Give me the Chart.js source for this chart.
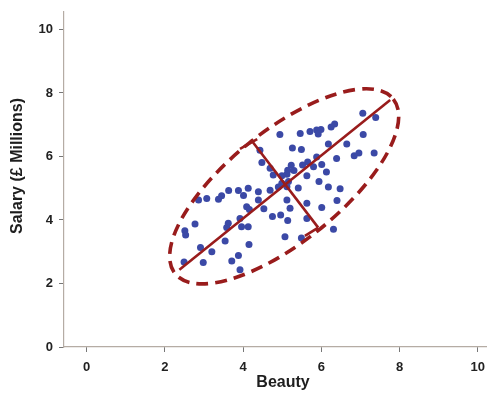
<!DOCTYPE html>
<html><head><meta charset="utf-8">
<script src="https://cdn.jsdelivr.net/npm/chart.js@4"></script>
<style>html,body{margin:0;padding:0;background:#fff}#wrap{width:491px;height:394px}</style>
</head><body><div id="wrap"><canvas id="c" width="491" height="394"></canvas></div>
<script>
// ---- data ----
const beautyValues = [7.06,7.39,6.34,6.25,4.94,5.46,5.71,5.88,5.99,5.92,7.07,6.18,6.65,5.26,5.49,4.43,7.35,6.96,6.84,6.39,5.88,5.65,5.52,5.23,5.14,5.30,5.80,6.01,6.13,4.48,4.69,4.77,4.99,5.12,5.63,5.94,6.18,6.48,5.16,4.99,5.12,5.41,4.90,4.69,4.39,4.13,4.01,3.88,3.63,3.45,3.37,3.07,2.86,4.39,5.12,4.09,4.16,4.53,5.20,5.63,6.01,6.40,4.75,4.96,5.14,5.63,6.31,5.07,5.49,2.77,2.51,2.53,3.62,3.58,3.92,3.96,4.13,3.54,2.91,3.20,4.15,2.49,2.98,3.71,3.88,3.92];
const salaryValues = [7.36,7.23,7.02,6.93,6.69,6.72,6.79,6.83,6.85,6.71,6.69,6.39,6.39,6.27,6.22,6.20,6.11,6.11,6.02,5.94,5.98,5.83,5.73,5.72,5.57,5.56,5.68,5.75,5.51,5.81,5.63,5.42,5.39,5.44,5.39,5.21,5.04,4.98,5.21,5.16,5.05,5.01,5.04,4.94,4.89,5.00,4.77,4.93,4.93,4.76,4.65,4.68,4.63,4.63,4.63,4.42,4.33,4.35,4.37,4.53,4.39,4.61,4.11,4.16,3.98,4.05,3.71,3.47,3.43,3.87,3.66,3.53,3.90,3.76,4.05,3.79,3.79,3.34,3.13,3.00,3.23,2.68,2.66,2.71,2.88,2.43];
const xTickValues = [0,2,4,6,8,10];
const yTickValues = [0,2,4,6,8,10];
const xAxisTitle = 'Beauty';
const yAxisTitle = 'Salary (£ Millions)';
const majorAxisX = [2.37, 7.76];
const majorAxisY = [2.43, 7.78];
const minorAxisX = [4.25, 5.92];
const minorAxisY = [6.45, 3.76];
const capTopX = [3.92, 4.36];
const capTopY = [6.24, 6.55];
const capBottomX = [5.92, 5.58];
const capBottomY = [3.76, 3.50];
const ellipseCenter = [5.05, 5.06];
const ellipseMajorVertex = [7.84, 7.81];
const ellipseMinorVertex = [4.16, 6.43];

// ---- build ----
const zip = (xs, ys) => xs.map((x, i) => ({x, y: ys[i]}));
const RED = '#991c1c';
const FONT = "'Liberation Sans', Arial, sans-serif";

const lineDs = (xs, ys) => ({
  data: zip(xs, ys), showLine: true, borderColor: RED, borderWidth: 2.6,
  pointRadius: 0, fill: false, order: 0, borderCapStyle: 'butt'
});

const ellipsePlugin = {
  id: 'ellipse',
  afterDatasetsDraw(chart) {
    const {ctx, scales: {x, y}} = chart;
    const cx = x.getPixelForValue(ellipseCenter[0]), cy = y.getPixelForValue(ellipseCenter[1]);
    const mx = x.getPixelForValue(ellipseMajorVertex[0]), my = y.getPixelForValue(ellipseMajorVertex[1]);
    const nx = x.getPixelForValue(ellipseMinorVertex[0]), ny = y.getPixelForValue(ellipseMinorVertex[1]);
    const a = Math.hypot(mx - cx, my - cy), b = Math.hypot(nx - cx, ny - cy);
    const rot = Math.atan2(my - cy, mx - cx);
    ctx.save();
    ctx.strokeStyle = RED; ctx.lineWidth = 3.6; ctx.setLineDash([12, 7]);
    ctx.beginPath(); ctx.ellipse(cx, cy, a, b, rot, 0, Math.PI * 2); ctx.stroke();
    ctx.restore();
  }
};

const titlePlugin = {
  id: 'axisTitles',
  afterDraw(chart) {
    const {ctx} = chart;
    ctx.save();
    ctx.fillStyle = '#1e1e1e';
    ctx.font = 'bold 16px ' + FONT;
    ctx.textAlign = 'center'; ctx.textBaseline = 'middle';
    ctx.fillText(xAxisTitle, 283, 383);
    ctx.translate(18, 166); ctx.rotate(-Math.PI / 2);
    ctx.fillText(yAxisTitle, 0, 0);
    ctx.restore();
  }
};

const tickFont = {family: FONT, size: 13, weight: 'bold'};

new Chart(document.getElementById('c'), {
  type: 'scatter',
  data: {
    datasets: [
      lineDs(majorAxisX, majorAxisY),
      lineDs(minorAxisX, minorAxisY),
      lineDs(capTopX, capTopY),
      lineDs(capBottomX, capBottomY),
      {
        data: zip(beautyValues, salaryValues),
        backgroundColor: '#3b49a6', borderWidth: 0, pointRadius: 3.5, order: 1
      }
    ]
  },
  options: {
    responsive: false, animation: false, devicePixelRatio: 1,
    layout: {padding: {top: 12, right: 5, left: 0, bottom: 0}},
    plugins: {legend: {display: false}, tooltip: {enabled: false}},
    scales: {
      x: {
        type: 'linear', min: -0.58, max: 10.21,
        afterBuildTicks: s => { s.ticks = xTickValues.map(v => ({value: v})); },
        afterFit: s => { s.height = 47; s.paddingLeft = 0; s.paddingRight = 0; },
        grid: {display: true, drawOnChartArea: false, drawTicks: true, tickLength: 5, color: '#777'},
        border: {display: true, color: '#b5aca4', width: 1.2},
        ticks: {font: tickFont, color: '#222', padding: 8, maxRotation: 0}
      },
      y: {
        type: 'linear', min: 0, max: 10.55,
        afterBuildTicks: s => { s.ticks = yTickValues.map(v => ({value: v})); },
        afterFit: s => { s.width = 64; s.paddingTop = 0; s.paddingBottom = 0; },
        grid: {display: true, drawOnChartArea: false, drawTicks: true, tickLength: 5, color: '#777'},
        border: {display: true, color: '#b5aca4', width: 1.2},
        ticks: {font: tickFont, color: '#222', padding: 6}
      }
    }
  },
  plugins: [ellipsePlugin, titlePlugin]
});
</script></body></html>
